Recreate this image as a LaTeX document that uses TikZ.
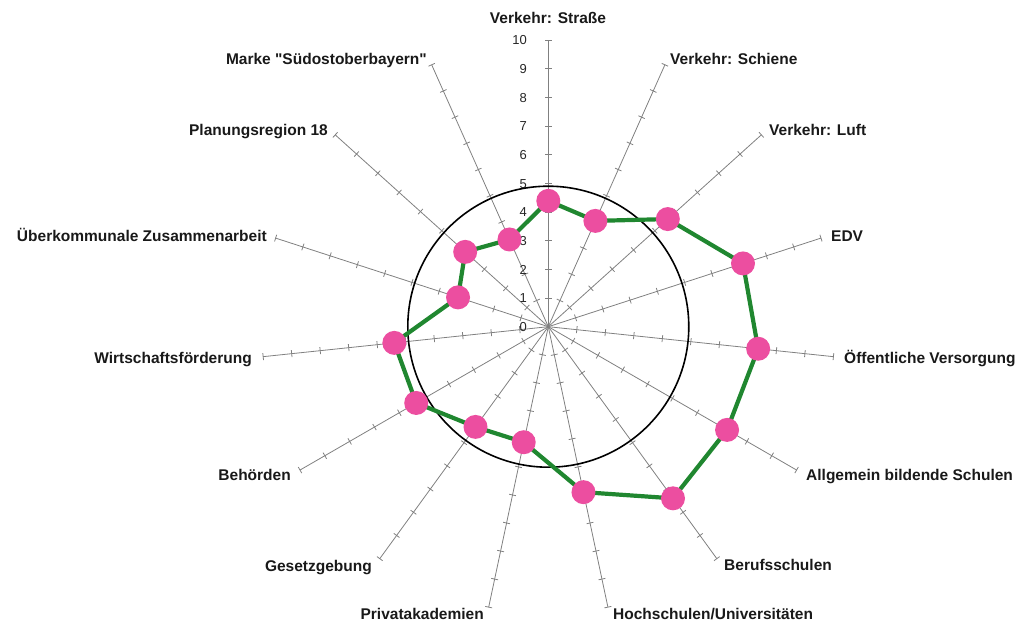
\documentclass[tikz,border=0pt]{standalone}
\usepackage{fontspec}
\setmainfont{Liberation Sans}[Ligatures=TeXOff]
\definecolor{pinkm}{RGB}{236,78,160}
\definecolor{greenl}{RGB}{32,135,48}
\definecolor{axisgray}{RGB}{128,128,128}
\begin{document}
\begin{tikzpicture}[x=1pt,y=1pt,
  lab/.style={font=\fontsize{15.5}{15.5}\selectfont\bfseries, inner sep=0pt, text height=11pt, text depth=0pt, text=black!90},
  num/.style={font=\fontsize{13}{13}\selectfont, inner sep=0pt, text height=9.4pt, text depth=0pt, anchor=east, text=black!85},
  axisline/.style={draw=axisgray, line width=0.8pt},
  ring/.style={draw=black, line width=1.6pt},
  datapath/.style={draw=greenl, line width=4.2pt, line join=round},
  marker/.style={circle, fill=pinkm, minimum size=24pt, inner sep=0pt}]
\useasboundingbox (-548.3,-296.3) rectangle (473.7,326.7);
\coordinate (O) at (0,0);
% axes with ticks
\foreach \i in {0,...,14} {
  \pgfmathsetmacro\ang{90-24*\i}
  \coordinate (e\i) at (\ang:286.7pt);
  \draw[axisline] (O) -- (e\i);
  \foreach \k in {1,...,10}
    \draw[axisline, rotate=\ang] (\k*28.67,-3.5) -- (\k*28.67,3.5);
}
% scale numbers
\foreach \k in {0,...,10}
  \node[num] (n\k) at (-21.3,\k*28.67) {\k};
% reference circle
\draw[ring] (O) circle[radius=140.5pt];
% data
\foreach \i/\v in {0/4.39,1/4.04,2/5.61,3/7.14,4/7.36,5/7.2,6/7.4,7/5.9,8/4.12,9/4.32,10/5.32,11/5.4,12/3.31,13/3.9,14/3.33} {
  \pgfmathsetmacro\ang{90-24*\i}
  \pgfmathsetmacro\rad{\v*28.67}
  \coordinate (d\i) at (\ang:\rad pt);
}
\draw[datapath] (d0) -- (d1) -- (d2) -- (d3) -- (d4) -- (d5) -- (d6) -- (d7) -- (d8) -- (d9) -- (d10) -- (d11) -- (d12) -- (d13) -- (d14) -- cycle;
\foreach \i in {0,...,14}
  \node[marker] (m\i) at (d\i) {};
% category labels
\node[lab, anchor=center] (l0) at (-0.3,308.7) {Verkehr: Straße};
\node[lab, anchor=west] (l1) at (121.7,267.7) {Verkehr: Schiene};
\node[lab, anchor=west] (l2) at (220.7,196.7) {Verkehr: Luft};
\node[lab, anchor=west] (l3) at (282.7,90.7) {EDV};
\node[lab, anchor=west] (l4) at (295.7,-31.3) {Öffentliche Versorgung};
\node[lab, anchor=west] (l5) at (257.7,-148.3) {Allgemein bildende Schulen};
\node[lab, anchor=west] (l6) at (175.7,-238.3) {Berufsschulen};
\node[lab, anchor=west] (l7) at (64.7,-287.3) {Hochschulen/Universitäten};
\node[lab, anchor=east] (l8) at (-64.3,-287.3) {Privatakademien};
\node[lab, anchor=east] (l9) at (-176.3,-239.3) {Gesetzgebung};
\node[lab, anchor=east] (l10) at (-257.3,-148.3) {Behörden};
\node[lab, anchor=east] (l11) at (-296.3,-31.3) {Wirtschaftsförderung};
\node[lab, anchor=east] (l12) at (-281.3,90.7) {Überkommunale Zusammenarbeit};
\node[lab, anchor=east] (l13) at (-220.3,196.7) {Planungsregion 18};
\node[lab, anchor=east] (l14) at (-121.3,267.7) {Marke "Südostoberbayern"};
\end{tikzpicture}
\end{document}
